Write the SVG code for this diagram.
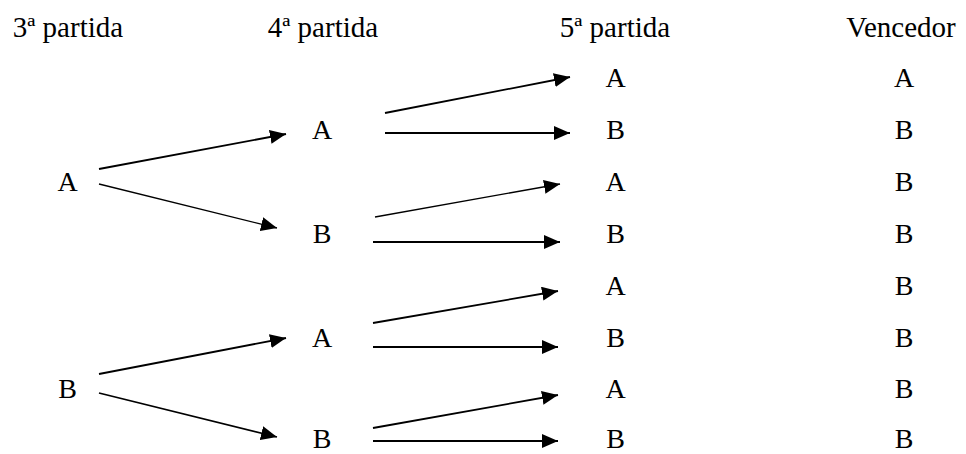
<svg xmlns="http://www.w3.org/2000/svg" width="966" height="454" viewBox="0 0 966 454">
<style>
text{font-family:"Liberation Serif","Times New Roman",serif;font-size:28px;fill:#000;text-anchor:middle}
.hd{font-size:29px}
line{stroke:#000;stroke-width:1.8;marker-end:url(#ah)}
</style>
<defs>
<marker id="ah" markerUnits="userSpaceOnUse" markerWidth="17" markerHeight="15" refX="16" refY="7" orient="auto">
<path d="M0,0 L16,7 L0,14 z" fill="#000"/>
</marker>
</defs>
<rect width="966" height="454" fill="#fff"/>
<g id="headers">
<text class="hd" x="68" y="37">3ª partida</text>
<text class="hd" x="323" y="37">4ª partida</text>
<text class="hd" x="615" y="37">5ª partida</text>
<text class="hd" x="901" y="37">Vencedor</text>
</g>
<g id="p3-A"><text x="67.5" y="191">A</text></g>
<g id="p3-B"><text x="67.5" y="398">B</text></g>
<g id="p4-AA"><text x="322" y="139">A</text></g>
<g id="p4-AB"><text x="322" y="243">B</text></g>
<g id="p4-BA"><text x="322" y="347">A</text></g>
<g id="p4-BB"><text x="322" y="448">B</text></g>
<g id="p5-1"><text x="615.5" y="87">A</text></g>
<g id="p5-2"><text x="615.5" y="139">B</text></g>
<g id="p5-3"><text x="615.5" y="191">A</text></g>
<g id="p5-4"><text x="615.5" y="243">B</text></g>
<g id="p5-5"><text x="615.5" y="295">A</text></g>
<g id="p5-6"><text x="615.5" y="347">B</text></g>
<g id="p5-7"><text x="615.5" y="398">A</text></g>
<g id="p5-8"><text x="615.5" y="448">B</text></g>
<g id="v-1"><text x="904" y="87">A</text></g>
<g id="v-2"><text x="904" y="139">B</text></g>
<g id="v-3"><text x="904" y="191">B</text></g>
<g id="v-4"><text x="904" y="243">B</text></g>
<g id="v-5"><text x="904" y="295">B</text></g>
<g id="v-6"><text x="904" y="347">B</text></g>
<g id="v-7"><text x="904" y="398">B</text></g>
<g id="v-8"><text x="904" y="448">B</text></g>
<g id="connectors">
<line x1="99" y1="169" x2="286" y2="134"/>
<line x1="99" y1="184" x2="277" y2="228" style="stroke-width:1.3"/>
<line x1="99" y1="374" x2="286" y2="338"/>
<line x1="99" y1="393" x2="277" y2="437"/>
<line x1="385" y1="113" x2="570" y2="77"/>
<line x1="385" y1="133" x2="570" y2="133"/>
<line x1="375" y1="217" x2="560" y2="184" style="stroke-width:1.3"/>
<line x1="373" y1="242" x2="560" y2="242"/>
<line x1="373" y1="323" x2="558" y2="291"/>
<line x1="373" y1="347" x2="558" y2="347"/>
<line x1="373" y1="428" x2="558" y2="395"/>
<line x1="373" y1="441" x2="558" y2="441"/>
</g>
</svg>
